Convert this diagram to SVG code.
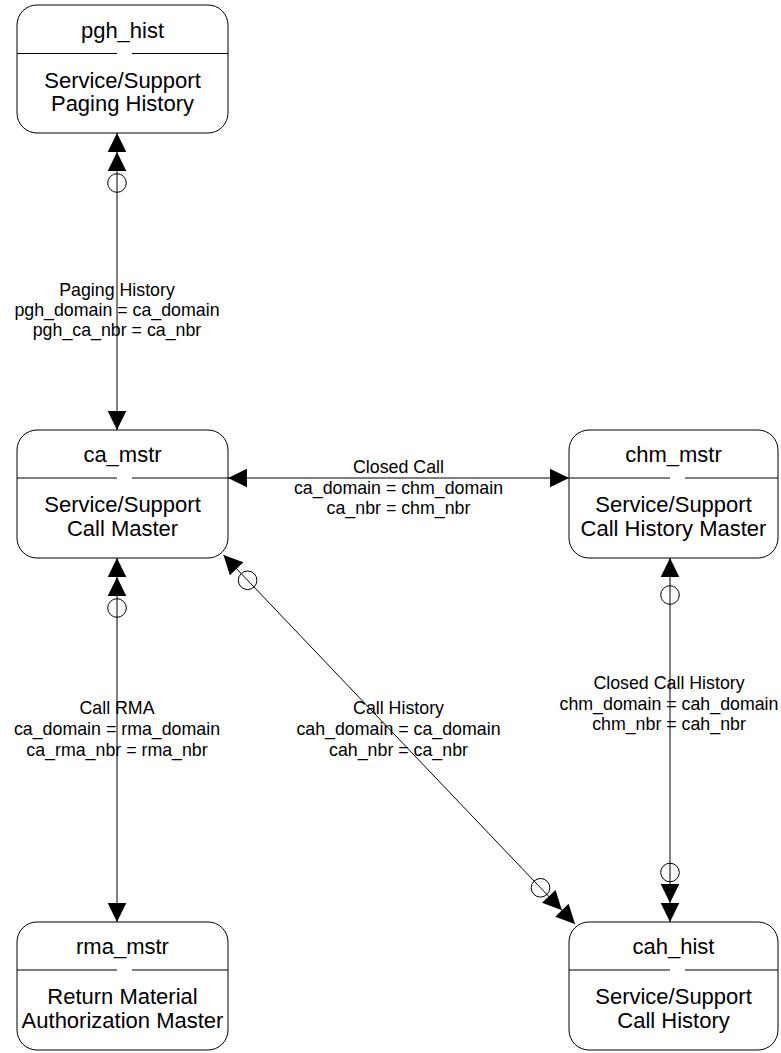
<svg xmlns="http://www.w3.org/2000/svg" xmlns:xlink="http://www.w3.org/1999/xlink" width="781" height="1053" viewBox="0 0 781 1053">
<style>
.box{fill:#fff;stroke:#000;stroke-width:1}
.div{stroke:#000;stroke-width:1;fill:none}
.title{font-family:"Liberation Sans",Arial,sans-serif;font-size:22px;fill:#000;text-anchor:middle}
.lbl{font-family:"Liberation Sans",Arial,sans-serif;font-size:17.8px;fill:#000;text-anchor:middle}
.conn{stroke:#000;stroke-width:1;fill:none}
.ring{stroke:#000;stroke-width:1;fill:none}
</style>
<defs>
<path id="arw" d="M0,0 L-19,-9.3 L-19,9.3 Z" fill="#000"/>
<circle id="rng" cx="0" cy="0" r="9.3" class="ring"/>
</defs>
<rect width="781" height="1053" fill="#fff"/>

<g id="pgh_hist">
<rect class="box" x="17" y="5" width="211" height="128" rx="20" ry="20"/>
<path class="div" d="M17,53.5 H117 M132,53.5 H228"/>
<text class="title" x="122.5" y="38">pgh_hist</text>
<text class="title" x="122.5" y="87.5">Service/Support</text>
<text class="title" x="122.5" y="110.5">Paging History</text>
</g>

<g id="ca_mstr">
<rect class="box" x="17" y="430" width="211" height="128" rx="20" ry="20"/>
<path class="div" d="M17,478 H117 M132,478 H228"/>
<text class="title" x="122.5" y="462">ca_mstr</text>
<text class="title" x="122.5" y="512">Service/Support</text>
<text class="title" x="122.5" y="536">Call Master</text>
</g>

<g id="chm_mstr">
<rect class="box" x="569" y="430" width="209" height="128" rx="20" ry="20"/>
<path class="div" d="M569,478 H670 M685,478 H778"/>
<text class="title" x="673.5" y="462">chm_mstr</text>
<text class="title" x="673.5" y="512">Service/Support</text>
<text class="title" x="673.5" y="536">Call History Master</text>
</g>

<g id="rma_mstr">
<rect class="box" x="17" y="922" width="211" height="128" rx="20" ry="20"/>
<path class="div" d="M17,970 H117 M132,970 H228"/>
<text class="title" x="122.5" y="954">rma_mstr</text>
<text class="title" x="122.5" y="1004">Return Material</text>
<text class="title" x="122.5" y="1028">Authorization Master</text>
</g>

<g id="cah_hist">
<rect class="box" x="569" y="922" width="209" height="128" rx="20" ry="20"/>
<path class="div" d="M569,970 H670 M685,970 H778"/>
<text class="title" x="673.5" y="954">cah_hist</text>
<text class="title" x="673.5" y="1004">Service/Support</text>
<text class="title" x="673.5" y="1028">Call History</text>
</g>

<g id="connectors">
<!-- Paging History -->
<g id="c_paging">
<line class="conn" x1="117" y1="133" x2="117" y2="430"/>
<use xlink:href="#arw" href="#arw" transform="translate(117,133) rotate(-90)"/>
<use xlink:href="#arw" href="#arw" transform="translate(117,152) rotate(-90)"/>
<use xlink:href="#rng" href="#rng" transform="translate(117,183)"/>
<use xlink:href="#arw" href="#arw" transform="translate(117,430) rotate(90)"/>
<text class="lbl" x="117" y="296">Paging History</text>
<text class="lbl" x="117" y="316">pgh_domain = ca_domain</text>
<text class="lbl" x="117" y="336">pgh_ca_nbr = ca_nbr</text>
</g>
<!-- Closed Call -->
<g id="c_closed">
<line class="conn" x1="228" y1="478" x2="569" y2="478"/>
<use xlink:href="#arw" href="#arw" transform="translate(228,478) rotate(180)"/>
<use xlink:href="#arw" href="#arw" transform="translate(569,478)"/>
<text class="lbl" x="398.5" y="473">Closed Call</text>
<text class="lbl" x="398.5" y="493.5">ca_domain = chm_domain</text>
<text class="lbl" x="398.5" y="514">ca_nbr = chm_nbr</text>
</g>
<!-- Call RMA -->
<g id="c_rma">
<line class="conn" x1="117" y1="558" x2="117" y2="922"/>
<use xlink:href="#arw" href="#arw" transform="translate(117,558) rotate(-90)"/>
<use xlink:href="#arw" href="#arw" transform="translate(117,577) rotate(-90)"/>
<use xlink:href="#rng" href="#rng" transform="translate(117,608)"/>
<use xlink:href="#arw" href="#arw" transform="translate(117,922) rotate(90)"/>
<text class="lbl" x="117" y="714">Call RMA</text>
<text class="lbl" x="117" y="735">ca_domain = rma_domain</text>
<text class="lbl" x="117" y="756">ca_rma_nbr = rma_nbr</text>
</g>
<!-- Call History -->
<g id="c_callhist">
<line class="conn" x1="223.5" y1="555" x2="575" y2="924"/>
<use xlink:href="#arw" href="#arw" transform="translate(223.5,555) rotate(226.4)"/>
<use xlink:href="#rng" href="#rng" transform="translate(247.6,580.3)"/>
<use xlink:href="#arw" href="#arw" transform="translate(575,924) rotate(46.4)"/>
<use xlink:href="#arw" href="#arw" transform="translate(561.9,910.2) rotate(46.4)"/>
<use xlink:href="#rng" href="#rng" transform="translate(540.5,887.8)"/>
<text class="lbl" x="398.5" y="714">Call History</text>
<text class="lbl" x="398.5" y="735">cah_domain = ca_domain</text>
<text class="lbl" x="398.5" y="756">cah_nbr = ca_nbr</text>
</g>
<!-- Closed Call History -->
<g id="c_closedhist">
<line class="conn" x1="670" y1="558" x2="670" y2="922"/>
<use xlink:href="#arw" href="#arw" transform="translate(670,558) rotate(-90)"/>
<use xlink:href="#rng" href="#rng" transform="translate(670,595)"/>
<use xlink:href="#arw" href="#arw" transform="translate(670,922) rotate(90)"/>
<use xlink:href="#arw" href="#arw" transform="translate(670,903) rotate(90)"/>
<use xlink:href="#rng" href="#rng" transform="translate(670,872.5)"/>
<text class="lbl" x="669" y="689">Closed Call History</text>
<text class="lbl" x="669" y="710">chm_domain = cah_domain</text>
<text class="lbl" x="669" y="730">chm_nbr = cah_nbr</text>
</g>
</g>
</svg>
